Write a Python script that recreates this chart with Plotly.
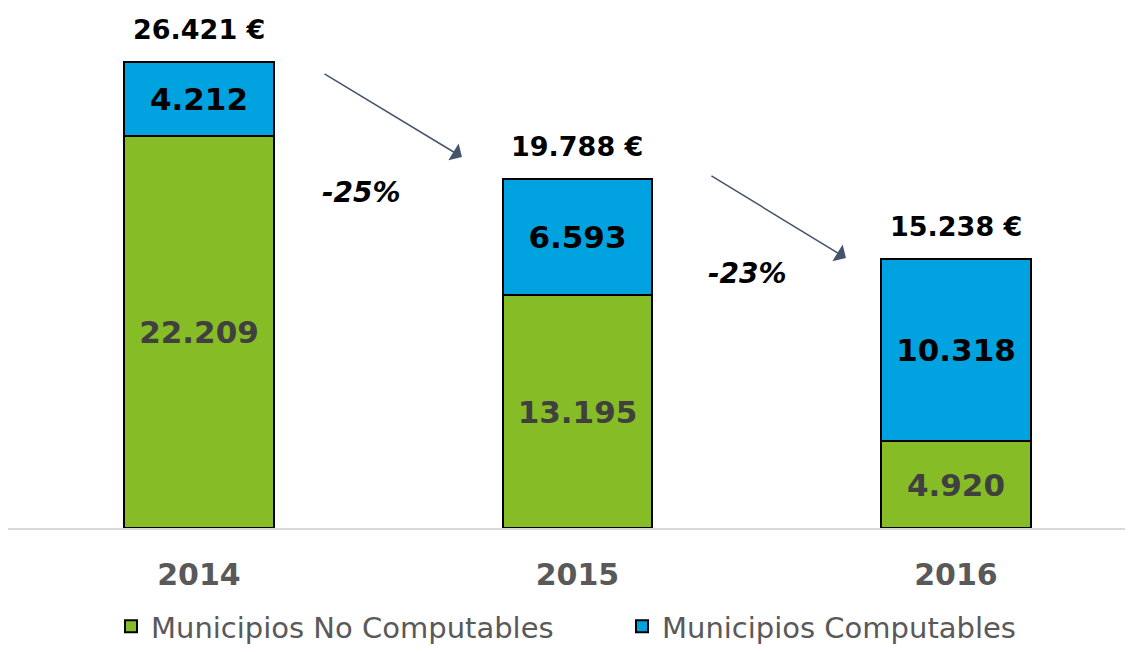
import plotly.graph_objects as go

years = ["2014", "2015", "2016"]
no_computables = [22209, 13195, 4920]
computables = [4212, 6593, 10318]
totals = [a + b for a, b in zip(no_computables, computables)]

GREEN = "#86BC25"
BLUE = "#00A3E0"
FONT = "DejaVu Sans"

def fmt(v):
    return f"{v:,}".replace(",", ".")

xs = list(range(len(years)))

fig = go.Figure()
fig.add_trace(go.Bar(
    x=xs, y=no_computables, name="Municipios No Computables",
    marker=dict(color=GREEN, line=dict(color="black", width=2)),
    width=0.396,
    texttemplate="%{y:,}", textposition="inside", insidetextanchor="middle",
    textangle=0, constraintext="none",
    textfont=dict(family=FONT, size=31, color="#404040", weight="bold"),
    hoverinfo="skip",
))
fig.add_trace(go.Bar(
    x=xs, y=computables, name="Municipios Computables",
    marker=dict(color=BLUE, line=dict(color="black", width=2)),
    width=0.396,
    texttemplate="%{y:,}", textposition="inside", insidetextanchor="middle",
    textangle=0, constraintext="none",
    textfont=dict(family=FONT, size=31, color="black", weight="bold"),
    hoverinfo="skip",
))

annotations = []
for x, t in zip(xs, totals):
    annotations.append(dict(
        x=x, y=t, xref="x", yref="y", text=f"{fmt(t)} €", showarrow=False,
        yshift=33, font=dict(family=FONT, size=27, color="black", weight="bold"),
    ))

# arrows and percent change between years
arrow_geom = [
    dict(tail=(0.3276, 25798), head=(0.6948, 21035), label=(0.4306, 19051)),
    dict(tail=(1.3500, 20015), head=(1.7093, 15309), label=(1.4504, 14458)),
]
for i, g in enumerate(arrow_geom):
    pct = round((totals[i + 1] - totals[i]) / totals[i] * 100)
    annotations.append(dict(
        x=g["head"][0], y=g["head"][1], ax=g["tail"][0], ay=g["tail"][1],
        xref="x", yref="y", axref="x", ayref="y", text="", showarrow=True,
        arrowhead=1, arrowsize=2.2, arrowwidth=1.5, arrowcolor="#44546A",
    ))
    annotations.append(dict(
        x=g["label"][0], y=g["label"][1], xref="x", yref="y",
        text=f"<i>{pct}%</i>", showarrow=False,
        font=dict(family=FONT, size=28, color="black", weight="bold"),
    ))

fig.update_layout(
    barmode="stack",
    width=1125, height=644,
    margin=dict(l=0, r=0, t=0, b=124),
    plot_bgcolor="white", paper_bgcolor="white",
    separators=",.",
    showlegend=True,
    legend=dict(
        orientation="h", x=0.1058, xanchor="left", yref="container", y=0.0, yanchor="bottom",
        font=dict(family=FONT, size=29, color="#595959"),
        traceorder="normal", entrywidth=466,
    ),
    annotations=annotations,
    xaxis=dict(
        range=[-0.5046, 2.4677], tickmode="array", tickvals=xs, ticktext=years,
        showgrid=False, zeroline=False, showline=True, linecolor="#D9D9D9", linewidth=2,
        ticks="", ticklabelstandoff=19,
        tickfont=dict(family=FONT, size=30, color="#595959", weight="bold"),
    ),
    yaxis=dict(range=[0, 29484], visible=False, showgrid=False, zeroline=False),
)

fig.write_html("out.html")
